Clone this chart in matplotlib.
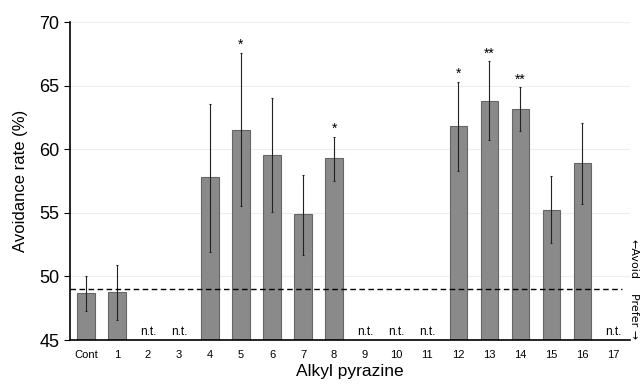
import numpy as np
import matplotlib.pyplot as plt

plt.rcParams['font.family'] = ['Liberation Sans', 'DejaVu Sans']

# data
labels = ['Cont'] + [str(i) for i in range(1, 18)]
means = [48.7, 48.75, None, None, 57.8, 61.5, 59.55, 54.9, 59.3,
         None, None, None, 61.8, 63.8, 63.15, 55.2, 58.9, None]
err_hi = [50.0, 50.9, None, None, 63.55, 67.6, 64.0, 58.0, 61.0,
          None, None, None, 65.3, 66.9, 64.9, 57.9, 62.1, None]
err_lo = [47.3, 46.6, None, None, 51.95, 55.5, 55.1, 51.7, 57.5,
          None, None, None, 58.3, 60.7, 61.4, 52.6, 55.7, None]
stars = {5: '*', 8: '*', 12: '*', 13: '**', 14: '**'}
baseline = 49.05

fig, ax = plt.subplots(figsize=(6.41, 3.87), dpi=100)
fig.subplots_adjust(left=0.109, right=0.983, bottom=0.1214, top=0.943)

x = np.arange(len(labels))
for i, m in enumerate(means):
    if m is None:
        ax.text(i, 45.15, 'n.t.', ha='center', va='bottom', fontsize=8.5)
        continue
    ax.bar(i, m - 45, bottom=45, width=0.55, color='#8a8a8a',
           edgecolor='#666666', linewidth=0.8, zorder=2)
    ax.errorbar(i, m, yerr=[[m - err_lo[i]], [err_hi[i] - m]], fmt='none',
                ecolor='#222222', elinewidth=0.8, capsize=1, capthick=0.8, zorder=3)
    if i in stars:
        ax.text(i, err_hi[i] + 0.05, stars[i], ha='center', va='bottom', fontsize=10)

ax.plot([-0.52, 17.3], [baseline, baseline], ls='--', color='black', lw=1, dashes=(4, 2.5), zorder=4)

ax.set_xlim(-0.52, 17.55)
ax.set_ylim(45, 70)
ax.set_yticks([45, 50, 55, 60, 65, 70])
ax.yaxis.grid(True, color='#eeeeee', lw=0.8, zorder=0)
ax.set_axisbelow(True)
ax.set_xticks(x)
ax.set_xticklabels(labels, fontsize=8)
ax.tick_params(axis='x', length=0, pad=7)
ax.tick_params(axis='y', labelsize=13, length=4, width=0.8)
for s in ['top', 'right']:
    ax.spines[s].set_visible(False)
ax.spines['bottom'].set_linewidth(1.2)
ax.spines['left'].set_linewidth(1.2)

ax.set_xlabel('Alkyl pyrazine', fontsize=12.5, labelpad=3)
ax.set_ylabel('Avoidance rate (%)', fontsize=12, labelpad=8)

fig.text(0.989, 0.33, '\u2190Avoid', rotation=-90, ha='center', va='center', fontsize=8,
         family=['DejaVu Sans'])
fig.text(0.989, 0.183, 'Prefer \u2192', rotation=-90, ha='center', va='center', fontsize=8,
         family=['DejaVu Sans'])

fig.savefig('out.png', dpi=100)
